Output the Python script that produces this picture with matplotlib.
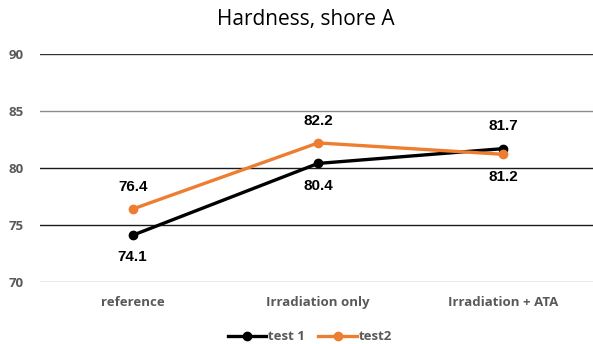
import matplotlib
matplotlib.use("Agg")
import matplotlib.pyplot as plt

categories = ["reference", "Irradiation only", "Irradiation + ATA"]
test1 = [74.1, 80.4, 81.7]
test2 = [76.4, 82.2, 81.2]
yticks = [70, 75, 80, 85, 90]

# label placement per point: +1 above, -1 below
test1_pos = [-1, -1, 1]
test2_pos = [1, 1, -1]

fig = plt.figure(figsize=(5.93, 3.44), dpi=100)
ax = fig.add_axes([40 / 593, 62 / 344, 556 / 593, 228 / 344])

x = list(range(len(categories)))
ax.set_xlim(-0.5, len(categories) - 0.5)
ax.set_ylim(70, 90)

grid_colors = {70: "#8c8c8c", 75: "#1a1a1a", 80: "#1a1a1a", 85: "#8c8c8c", 90: "#333333"}
for t in yticks:
    ax.axhline(t, color=grid_colors[t], lw=1.0, zorder=0)

ax.plot(x, test1, color="black", lw=2.4, marker="o", ms=6, label="test 1", zorder=3)
ax.plot(x, test2, color="#ED7D31", lw=2.4, marker="o", ms=6, label="test2", zorder=3)

for xs, vals, pos in ((x, test1, test1_pos), (x, test2, test2_pos)):
    for xi, v, p in zip(xs, vals, pos):
        ax.annotate(f"{v:.1f}", (xi, v), xytext=(0, 16 * p), textcoords="offset points",
                    ha="center", va="center", fontsize=11, fontweight="bold",
                    family="Liberation Sans", color="black")

for s in ax.spines.values():
    s.set_visible(False)
ax.set_yticks(yticks)
ax.set_xticks(x)
ax.set_xticklabels(categories)
ax.tick_params(length=0, labelsize=9.5, labelcolor="#595959")
for lab in ax.get_xticklabels() + ax.get_yticklabels():
    lab.set_fontweight("bold")
    lab.set_family("Open Sans")
ax.tick_params(axis="y", pad=12)
ax.tick_params(axis="x", pad=10)

fig.text(306 / 593, 1 - 20 / 344, "Hardness, shore A", ha="center", va="center",
         fontsize=15, family="Open Sans", color="black")

leg = fig.legend(loc="center", bbox_to_anchor=(310 / 593, 1 - 337 / 344), ncol=2,
                 frameon=False, handlelength=2.9, columnspacing=1.0, handletextpad=0.15,
                 prop={"family": "Open Sans", "weight": "bold", "size": 9.5})
for t in leg.get_texts():
    t.set_color("#595959")

fig.savefig("out.png", dpi=100)
